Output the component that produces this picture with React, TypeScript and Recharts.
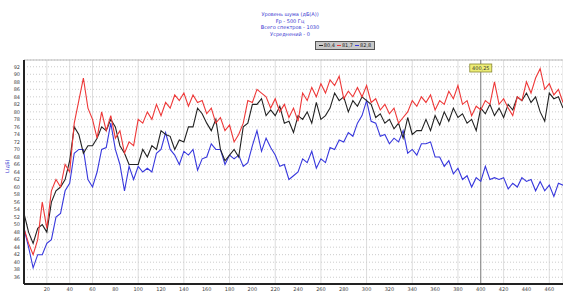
import {
  LineChart,
  Line,
  XAxis,
  YAxis,
  CartesianGrid,
  ReferenceLine,
} from 'recharts';

const xs = [
  0, 4, 8, 12, 16, 20, 24, 28, 32, 36, 40, 44, 48, 52, 56, 60, 64, 68, 72, 76,
  80, 84, 88, 92, 96, 100, 104, 108, 112, 116, 120, 124, 128, 132, 136, 140, 144, 148, 152, 156,
  160, 164, 168, 172, 176, 180, 184, 188, 192, 196, 200, 204, 208, 212, 216, 220, 224, 228, 232, 236,
  240, 244, 248, 252, 256, 260, 264, 268, 272, 276, 280, 284, 288, 292, 296, 300, 304, 308, 312, 316,
  320, 324, 328, 332, 336, 340, 344, 348, 352, 356, 360, 364, 368, 372, 376, 380, 384, 388, 392, 396,
  400, 404, 408, 412, 416, 420, 424, 428, 432, 436, 440, 444, 448, 452, 456, 460, 464, 468, 472,
];

const redSeries = [
  49, 45, 42, 46, 56, 49, 59, 62, 60, 66, 64, 77, 83, 89, 81, 78, 73, 80, 75, 79,
  73, 75, 69, 72, 71, 78, 77, 80, 78, 82, 79, 82.5, 81, 84.5, 83, 85, 81.5, 84.5, 82.5, 83,
  79.5, 81, 77, 78.5, 75, 76.5, 72, 74, 77, 83, 82.5, 86, 85, 84, 81, 83.5, 80, 82, 78.5, 81,
  77.5, 85, 83, 86.5, 84, 87.5, 85, 88.5, 87, 89.5, 83.5, 85.5, 84, 86.5, 84, 87, 82.5, 83.5, 80.5, 82,
  79.5, 81, 77, 78.5, 80, 83, 81.5, 84, 82.5, 84.5, 80.5, 83, 82, 85.5, 83.5, 87, 82, 83, 79, 81.5,
  80.5, 83, 82, 88, 82, 83.5, 81, 79, 84, 83, 88, 85, 89, 91.5, 86, 87.5, 84.5, 86, 82.5,
];

const blackSeries = [
  53, 48, 45, 49, 50, 48, 56, 59, 60, 62, 67, 76, 74, 69, 71, 71, 73, 76, 75, 78,
  76, 71, 69, 66, 66, 66, 70, 68, 71, 70, 75, 74, 73.5, 70, 72.5, 72, 76, 76, 81, 79.5,
  77, 75, 78, 70, 67, 68.5, 70, 68, 76, 77, 82, 82, 83.5, 79, 80.5, 79, 81.5, 77, 77.5, 74.5,
  79, 78, 80, 77, 82.5, 78, 79, 81, 85, 83, 84, 80, 83, 81.5, 84, 83, 82, 78.5, 79.5, 77,
  78, 75.5, 77, 73, 78.5, 74, 75, 75, 78, 75, 79, 76.5, 80, 77.5, 81, 78.5, 79.5, 77, 78, 75,
  81, 79.5, 82, 79, 81, 78.5, 82, 80.5, 84, 83, 85, 82.5, 84, 80, 77.5, 85, 83.5, 84, 81,
];

const blueSeries = [
  49, 44, 38.5, 42, 42, 45, 46, 52, 53, 59, 61, 69, 70, 70, 62, 60, 64, 70, 70.5, 77,
  70, 66, 59, 65.5, 62, 65.5, 64, 65, 64, 69, 70, 74.5, 70, 68.5, 66, 69.5, 68.5, 70, 64.5, 67.5,
  68, 71.5, 70, 70, 66, 68.5, 67.5, 68.5, 65.5, 66.5, 71, 75, 69.5, 73, 70.5, 68.5, 65.5, 66, 62, 63,
  64, 67.5, 66.5, 69.5, 65, 67.5, 66.5, 70.5, 70, 72.5, 72, 74.5, 73.5, 77, 79, 83, 77.5, 77, 73.5, 74,
  71.5, 73, 72, 75, 69, 70, 68.5, 71.5, 71.5, 72, 68, 68, 65.5, 67, 63.5, 65, 62, 63, 60, 62.5,
  61.5, 65.5, 62, 62.5, 62, 62.5, 59.5, 61, 60, 62.5, 61.5, 62, 59, 61.5, 59, 60.5, 57.5, 61, 60.5,
];

const xTicks = [
  20, 40, 60, 80, 100, 120, 140, 160, 180, 200, 220, 240, 260, 280, 300, 320, 340, 360, 380, 400, 420, 440, 460,
];
const yTicks = [
  36, 38, 40, 42, 44, 46, 48, 50, 52, 54, 56, 58, 60, 62, 64, 66, 68, 70, 72, 74, 76, 78, 80, 82, 84, 86, 88, 90, 92,
];

const titleLines = ['Уровень шума (дБ(А))', 'Fр - 500 Гц', 'Всего спектров - 1030', 'Усреднений - 0'];
const legendValues = ['80,4', '81,7', '82,8'];
const cursorX = 400;
const cursorLabel = '400,25';

const COLORS = ['#222222', '#ee3838', '#3838dd'];
const FONT = '"DejaVu Sans", sans-serif';

const data = xs.map((x, i) => ({
  x,
  black: blackSeries[i],
  red: redSeries[i],
  blue: blueSeries[i],
}));

function CursorLabel(props: any) {
  const { viewBox } = props;
  const cx = viewBox.x;
  return (
    <g>
      <rect x={cx - 11} y={viewBox.y + 4} width={22} height={8} fill="#eeee77" stroke="#888833" strokeWidth={0.8} />
      <text x={cx} y={viewBox.y + 10} textAnchor="middle" fontSize={5} fontFamily={FONT} fill="#333">
        {cursorLabel}
      </text>
    </g>
  );
}

export default function App() {
  return (
    <div style={{ position: 'absolute', left: 0, top: 0, width: 563, height: 296, background: '#fff', fontFamily: FONT }}>
      <div style={{ position: 'absolute', left: 190, top: 11, width: 200, textAlign: 'center', color: '#3636d0', fontSize: 5, lineHeight: '6.7px' }}>
        {titleLines.map((t) => (
          <div key={t}>{t}</div>
        ))}
      </div>
      <div
        style={{
          position: 'absolute',
          left: 315,
          top: 41,
          width: 58,
          height: 7,
          background: '#c8c8c8',
          border: '1px solid #555',
          fontSize: 5,
          lineHeight: '7px',
          color: '#222',
          display: 'flex',
          justifyContent: 'center',
          gap: 2,
        }}
      >
        {legendValues.map((v, i) => (
          <span key={v} style={{ display: 'flex', alignItems: 'center', gap: 1 }}>
            <span style={{ display: 'inline-block', width: 4, height: 1, background: COLORS[i] }} />
            {v}
          </span>
        ))}
      </div>
      <div
        style={{
          position: 'absolute',
          left: 4,
          top: 173,
          transform: 'rotate(-90deg)',
          transformOrigin: 'left top',
          fontSize: 5,
          color: '#3636d0',
        }}
      >
        L(дБ)
      </div>
      <LineChart width={563} height={296} data={data} margin={{ top: 60, right: 0, bottom: 0, left: 0 }}>
        <CartesianGrid horizontal={false} stroke="#dddddd" />
        <CartesianGrid vertical={false} stroke="#cccccc" strokeDasharray="1 2" />
        <XAxis
          dataKey="x"
          type="number"
          domain={[0, 472]}
          ticks={xTicks}
          allowDataOverflow
          height={12}
          tickSize={0}
          tickMargin={3}
          tick={{ fontSize: 5, fill: '#444', fontFamily: FONT }}
          axisLine={{ stroke: '#222', strokeWidth: 2 }}
        />
        <YAxis
          type="number"
          domain={[34.2, 93.8]}
          ticks={yTicks}
          allowDataOverflow
          interval={0}
          width={24}
          tickSize={0}
          tickMargin={4}
          tick={{ fontSize: 5, fill: '#444', fontFamily: FONT }}
          axisLine={{ stroke: '#222', strokeWidth: 2 }}
        />
        <ReferenceLine y={93.8} stroke="#bbbbbb" />
        <ReferenceLine x={cursorX} stroke="#777777" strokeWidth={1} label={<CursorLabel />} />
        <Line dataKey="blue" stroke={COLORS[2]} strokeWidth={1.1} dot={false} isAnimationActive={false} />
        <Line dataKey="black" stroke={COLORS[0]} strokeWidth={1.1} dot={false} isAnimationActive={false} />
        <Line dataKey="red" stroke={COLORS[1]} strokeWidth={1.1} dot={false} isAnimationActive={false} />
      </LineChart>
    </div>
  );
}
